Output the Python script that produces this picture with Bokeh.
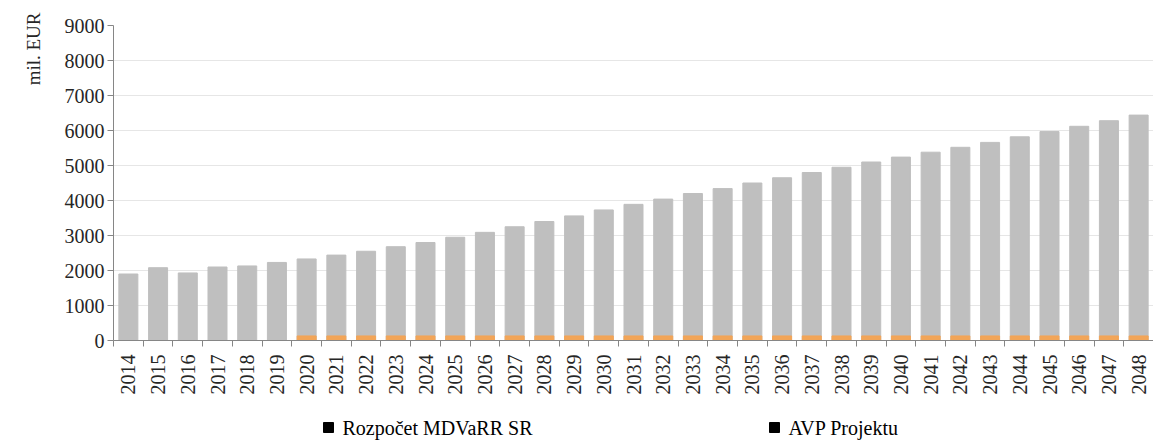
from bokeh.plotting import figure
from bokeh.models import FixedTicker, Range1d, ColumnDataSource, Title
from bokeh.layouts import column
from bokeh.embed import file_html
from bokeh.resources import INLINE
from bokeh.core.properties import value
import math

years = [str(y) for y in range(2014, 2049)]
rozpocet = [1900, 2080, 1930, 2100, 2130, 2230, 2330, 2440, 2550, 2680, 2800,
            2950, 3090, 3250, 3400, 3560, 3730, 3890, 4040, 4200, 4340, 4500,
            4650, 4800, 4950, 5100, 5240, 5380, 5520, 5660, 5820, 5970, 6120,
            6280, 6440]
avp = [0, 0, 0, 0, 0, 0, 130, 130, 130, 130, 130, 130, 130, 130, 130, 130,
       130, 130, 130, 130, 130, 130, 130, 130, 130, 130, 130, 130, 130, 130,
       130, 130, 130, 130, 130]
y_ticks = [0, 1000, 2000, 3000, 4000, 5000, 6000, 7000, 8000, 9000]
legend_labels = ["Rozpočet MDVaRR SR", "AVP Projektu"]

FONT = "Liberation Serif"
idx = list(range(len(years)))
src = ColumnDataSource(dict(x=idx, r=rozpocet, a=avp))

p = figure(width=1153, height=412, output_backend="svg", toolbar_location=None,
           x_range=Range1d(-0.5, len(years) - 0.5), y_range=Range1d(0, 9000),
           min_border_left=113, min_border_right=0, min_border_top=25,
           min_border_bottom=72, outline_line_color=None)

p.vbar(x="x", top="r", width=0.64, source=src, color="#BFBFBF")
p.vbar(x="x", top="a", width=0.64, source=src, color="#F2A558")

# y axis
p.yaxis.ticker = FixedTicker(ticks=y_ticks)
p.yaxis.major_label_text_font = FONT
p.yaxis.major_label_text_font_size = "20px"
p.yaxis.major_label_text_color = "#262626"
p.yaxis.axis_line_color = "#868686"
p.yaxis.major_tick_line_color = "#868686"
p.yaxis.major_tick_out = 6
p.yaxis.major_tick_in = 0
p.yaxis.minor_tick_line_color = None
p.yaxis.major_label_standoff = 3

# x axis
p.xaxis.ticker = FixedTicker(ticks=idx, minor_ticks=[i - 0.5 for i in idx] + [len(idx) - 0.5])
p.xaxis.major_label_overrides = {i: years[i] for i in idx}
p.xaxis.major_label_orientation = math.pi / 2
p.xaxis.major_label_text_font = FONT
p.xaxis.major_label_text_font_size = "20px"
p.xaxis.major_label_text_color = "#262626"
p.xaxis.major_tick_line_color = None
p.xaxis.minor_tick_line_color = "#868686"
p.xaxis.minor_tick_out = 6
p.xaxis.minor_tick_in = 0
p.xaxis.axis_line_color = "#868686"
p.xaxis.major_label_standoff = 8

p.xgrid.grid_line_color = None
p.ygrid.grid_line_color = "#E6E6E6"

# y axis title at the top-left
p.add_layout(Title(text="mil. EUR", align="right", offset=-13, standoff=36,
                   text_font=FONT, text_font_size="19px",
                   text_font_style="normal", text_color="#262626"), "left")

# legend strip (black squares + labels); its frame is aligned with the main
# plot's frame by the column layout, so the x range spans that frame (113..1153)
lg = figure(width=1153, height=30, output_backend="svg", toolbar_location=None,
            x_range=Range1d(113, 1153), y_range=Range1d(0, 30),
            min_border=0, outline_line_color=None)
lg.axis.visible = False
lg.grid.grid_line_color = None
lsrc = ColumnDataSource(dict(mx=[328, 774], tx=[342, 788], y=[15, 15],
                             label=legend_labels))
lg.scatter(x="mx", y="y", source=lsrc, marker="square", size=10,
           color="#000000")
lg.text(x="tx", y="y", text="label", source=lsrc, text_font=value(FONT),
        text_font_size="20px", text_color="#000000", text_baseline="middle")

layout = column(p, lg, spacing=0)
open("out.html", "w").write(file_html(layout, INLINE))
